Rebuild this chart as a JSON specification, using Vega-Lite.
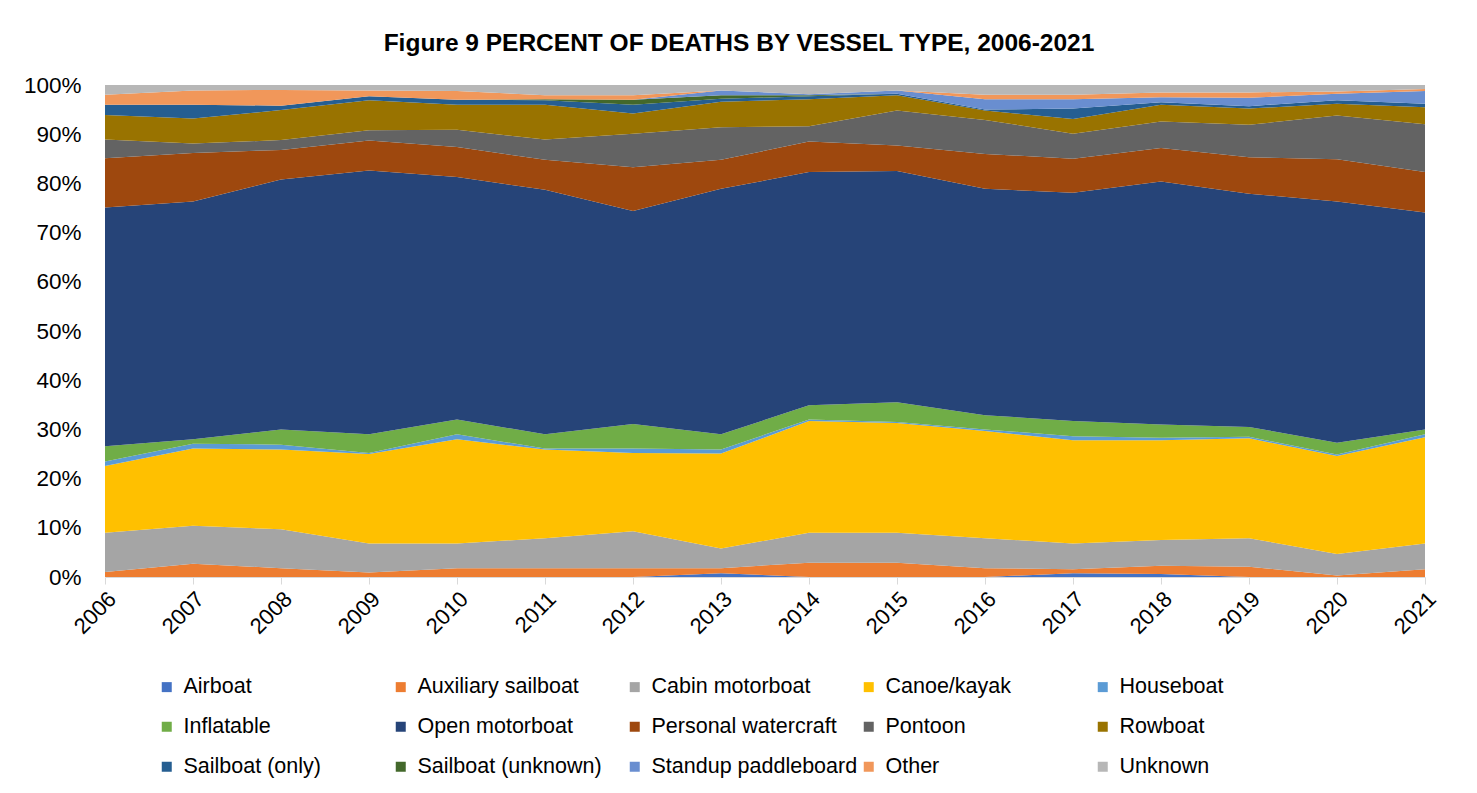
{
  "$schema": "https://vega.github.io/schema/vega-lite/v6.json",
  "autosize": "none",
  "width": 1320,
  "height": 492,
  "padding": {"left": 105, "top": 85, "right": 52, "bottom": 216},
  "background": "white",
  "title": {
    "text": "Figure 9 PERCENT OF DEATHS BY VESSEL TYPE, 2006-2021",
    "font": "Liberation Sans",
    "fontSize": 24.5,
    "fontWeight": "bold",
    "color": "#000000",
    "anchor": "middle",
    "frame": "group",
    "offset": 18,
    "dx": -26
  },
  "data": {
    "values": [
      {"year": 2006, "Airboat": 0, "Auxiliary sailboat": 1, "Cabin motorboat": 8, "Canoe/kayak": 13.6, "Houseboat": 0.9, "Inflatable": 3.1, "Open motorboat": 48.6, "Personal watercraft": 10, "Pontoon": 3.8, "Rowboat": 5, "Sailboat (only)": 2.1, "Sailboat (unknown)": 0, "Standup paddleboard": 0, "Other": 2, "Unknown": 2},
      {"year": 2007, "Airboat": 0, "Auxiliary sailboat": 2.7, "Cabin motorboat": 7.7, "Canoe/kayak": 15.7, "Houseboat": 1.0, "Inflatable": 0.9, "Open motorboat": 48.3, "Personal watercraft": 9.9, "Pontoon": 1.9, "Rowboat": 5.1, "Sailboat (only)": 2.8, "Sailboat (unknown)": 0, "Standup paddleboard": 0, "Other": 2.9, "Unknown": 1.1},
      {"year": 2008, "Airboat": 0, "Auxiliary sailboat": 1.8, "Cabin motorboat": 7.9, "Canoe/kayak": 16.2, "Houseboat": 1.0, "Inflatable": 3.1, "Open motorboat": 50.8, "Personal watercraft": 6.0, "Pontoon": 2.0, "Rowboat": 6.1, "Sailboat (only)": 0.9, "Sailboat (unknown)": 0, "Standup paddleboard": 0, "Other": 3.2, "Unknown": 1.0},
      {"year": 2009, "Airboat": 0, "Auxiliary sailboat": 0.9, "Cabin motorboat": 5.9, "Canoe/kayak": 18.2, "Houseboat": 0.2, "Inflatable": 3.8, "Open motorboat": 53.6, "Personal watercraft": 6.1, "Pontoon": 2.1, "Rowboat": 6.1, "Sailboat (only)": 0.8, "Sailboat (unknown)": 0, "Standup paddleboard": 0, "Other": 1.2, "Unknown": 1.1},
      {"year": 2010, "Airboat": 0, "Auxiliary sailboat": 1.8, "Cabin motorboat": 5.0, "Canoe/kayak": 21.2, "Houseboat": 1.0, "Inflatable": 3.0, "Open motorboat": 49.3, "Personal watercraft": 6.1, "Pontoon": 3.5, "Rowboat": 5.1, "Sailboat (only)": 1.0, "Sailboat (unknown)": 0, "Standup paddleboard": 0, "Other": 1.8, "Unknown": 1.2},
      {"year": 2011, "Airboat": 0, "Auxiliary sailboat": 1.8, "Cabin motorboat": 6.1, "Canoe/kayak": 18.0, "Houseboat": 0.2, "Inflatable": 2.9, "Open motorboat": 49.7, "Personal watercraft": 6.1, "Pontoon": 4.1, "Rowboat": 7.1, "Sailboat (only)": 0.9, "Sailboat (unknown)": 0.2, "Standup paddleboard": 0, "Other": 0.8, "Unknown": 2.1},
      {"year": 2012, "Airboat": 0, "Auxiliary sailboat": 1.8, "Cabin motorboat": 7.5, "Canoe/kayak": 15.9, "Houseboat": 0.9, "Inflatable": 5.0, "Open motorboat": 43.3, "Personal watercraft": 8.9, "Pontoon": 6.8, "Rowboat": 4.1, "Sailboat (only)": 1.8, "Sailboat (unknown)": 1.0, "Standup paddleboard": 0, "Other": 0.9, "Unknown": 2.1},
      {"year": 2013, "Airboat": 0.75, "Auxiliary sailboat": 1.05, "Cabin motorboat": 4.0, "Canoe/kayak": 19.3, "Houseboat": 0.8, "Inflatable": 3.1, "Open motorboat": 49.9, "Personal watercraft": 5.9, "Pontoon": 6.6, "Rowboat": 5.2, "Sailboat (only)": 0.6, "Sailboat (unknown)": 0.7, "Standup paddleboard": 1.0, "Other": 0, "Unknown": 1.1},
      {"year": 2014, "Airboat": 0, "Auxiliary sailboat": 2.9, "Cabin motorboat": 6.1, "Canoe/kayak": 22.7, "Houseboat": 0.3, "Inflatable": 2.9, "Open motorboat": 47.4, "Personal watercraft": 6.2, "Pontoon": 3.1, "Rowboat": 5.5, "Sailboat (only)": 0.6, "Sailboat (unknown)": 0.2, "Standup paddleboard": 0.2, "Other": 0, "Unknown": 1.9},
      {"year": 2015, "Airboat": 0, "Auxiliary sailboat": 2.9, "Cabin motorboat": 6.1, "Canoe/kayak": 22.3, "Houseboat": 0.2, "Inflatable": 4.0, "Open motorboat": 47.0, "Personal watercraft": 5.2, "Pontoon": 7.1, "Rowboat": 3.1, "Sailboat (only)": 0.3, "Sailboat (unknown)": 0, "Standup paddleboard": 0.7, "Other": 0, "Unknown": 1.1},
      {"year": 2016, "Airboat": 0, "Auxiliary sailboat": 1.8, "Cabin motorboat": 6.1, "Canoe/kayak": 21.8, "Houseboat": 0.3, "Inflatable": 2.9, "Open motorboat": 46.0, "Personal watercraft": 7.1, "Pontoon": 6.9, "Rowboat": 1.9, "Sailboat (only)": 0.2, "Sailboat (unknown)": 0, "Standup paddleboard": 2.1, "Other": 0.9, "Unknown": 2.0},
      {"year": 2017, "Airboat": 0.75, "Auxiliary sailboat": 0.85, "Cabin motorboat": 5.2, "Canoe/kayak": 21.0, "Houseboat": 0.8, "Inflatable": 3.1, "Open motorboat": 46.4, "Personal watercraft": 6.9, "Pontoon": 5.1, "Rowboat": 3.0, "Sailboat (only)": 2.1, "Sailboat (unknown)": 0, "Standup paddleboard": 1.9, "Other": 0.9, "Unknown": 2.0},
      {"year": 2018, "Airboat": 0.6, "Auxiliary sailboat": 1.7, "Cabin motorboat": 5.2, "Canoe/kayak": 20.3, "Houseboat": 0.5, "Inflatable": 2.7, "Open motorboat": 49.4, "Personal watercraft": 6.8, "Pontoon": 5.4, "Rowboat": 3.4, "Sailboat (only)": 0.5, "Sailboat (unknown)": 0, "Standup paddleboard": 1.0, "Other": 1.0, "Unknown": 1.5},
      {"year": 2019, "Airboat": 0, "Auxiliary sailboat": 2.1, "Cabin motorboat": 5.8, "Canoe/kayak": 20.3, "Houseboat": 0.3, "Inflatable": 2.0, "Open motorboat": 47.4, "Personal watercraft": 7.4, "Pontoon": 6.6, "Rowboat": 3.3, "Sailboat (only)": 0.5, "Sailboat (unknown)": 0, "Standup paddleboard": 1.7, "Other": 1.1, "Unknown": 1.5},
      {"year": 2020, "Airboat": 0, "Auxiliary sailboat": 0.3, "Cabin motorboat": 4.4, "Canoe/kayak": 19.9, "Houseboat": 0.3, "Inflatable": 2.4, "Open motorboat": 49.0, "Personal watercraft": 8.6, "Pontoon": 8.9, "Rowboat": 2.4, "Sailboat (only)": 0.7, "Sailboat (unknown)": 0, "Standup paddleboard": 1.3, "Other": 0.5, "Unknown": 1.3},
      {"year": 2021, "Airboat": 0, "Auxiliary sailboat": 1.6, "Cabin motorboat": 5.2, "Canoe/kayak": 21.6, "Houseboat": 0.6, "Inflatable": 1.0, "Open motorboat": 44.1, "Personal watercraft": 8.2, "Pontoon": 9.7, "Rowboat": 3.5, "Sailboat (only)": 0.7, "Sailboat (unknown)": 0, "Standup paddleboard": 2.6, "Other": 0.4, "Unknown": 0.8}
    ]
  },
  "transform": [
    {"fold": ["Airboat", "Auxiliary sailboat", "Cabin motorboat", "Canoe/kayak", "Houseboat", "Inflatable", "Open motorboat", "Personal watercraft", "Pontoon", "Rowboat", "Sailboat (only)", "Sailboat (unknown)", "Standup paddleboard", "Other", "Unknown"], "as": ["type", "pct"]},
    {"calculate": "indexof(['Airboat', 'Auxiliary sailboat', 'Cabin motorboat', 'Canoe/kayak', 'Houseboat', 'Inflatable', 'Open motorboat', 'Personal watercraft', 'Pontoon', 'Rowboat', 'Sailboat (only)', 'Sailboat (unknown)', 'Standup paddleboard', 'Other', 'Unknown'], datum.type)", "as": "rank"}
  ],
  "mark": {"type": "area", "interpolate": "linear"},
  "encoding": {
    "x": {
      "field": "year",
      "type": "quantitative",
      "scale": {"domain": [2006, 2021], "nice": false, "zero": false},
      "axis": {
        "values": [2006, 2007, 2008, 2009, 2010, 2011, 2012, 2013, 2014, 2015, 2016, 2017, 2018, 2019, 2020, 2021],
        "format": "d",
        "title": null,
        "grid": false,
        "labelAngle": -45,
        "labelFont": "Liberation Sans",
        "labelFontSize": 22,
        "labelColor": "#000000",
        "labelPadding": 4,
        "domainColor": "#d9d9d9",
        "tickColor": "#d9d9d9",
        "tickSize": 7
      }
    },
    "y": {
      "field": "pct",
      "type": "quantitative",
      "stack": "normalize",
      "scale": {"domain": [0, 1]},
      "axis": {
        "values": [0, 0.1, 0.2, 0.3, 0.4, 0.5, 0.6, 0.7, 0.8, 0.9, 1],
        "format": ".0%",
        "title": null,
        "grid": false,
        "domain": false,
        "ticks": false,
        "labelFont": "Liberation Sans",
        "labelFontSize": 22.5,
        "labelColor": "#000000",
        "labelPadding": 24
      }
    },
    "order": {"field": "rank", "type": "quantitative", "sort": "ascending"},
    "color": {
      "field": "type",
      "type": "nominal",
      "scale": {
        "domain": ["Airboat", "Auxiliary sailboat", "Cabin motorboat", "Canoe/kayak", "Houseboat", "Inflatable", "Open motorboat", "Personal watercraft", "Pontoon", "Rowboat", "Sailboat (only)", "Sailboat (unknown)", "Standup paddleboard", "Other", "Unknown"],
        "range": ["#4472C4", "#ED7D31", "#A5A5A5", "#FFC000", "#5B9BD5", "#70AD47", "#264478", "#9E480E", "#636363", "#997300", "#255E91", "#43682B", "#698ED0", "#F1975A", "#B7B7B7"]
      },
      "legend": {
        "orient": "none",
        "legendX": 51,
        "legendY": 591,
        "direction": "horizontal",
        "columns": 5,
        "gridAlign": "all",
        "columnPadding": -1,
        "rowPadding": 17,
        "title": null,
        "symbolType": "square",
        "symbolSize": 100,
        "symbolStrokeWidth": 0,
        "symbolOpacity": 1,
        "labelFont": "Liberation Sans",
        "labelFontSize": 21.5,
        "labelColor": "#000000",
        "labelLimit": 400,
        "labelOffset": 6
      }
    }
  },
  "config": {
    "view": {"stroke": null}
  }
}
